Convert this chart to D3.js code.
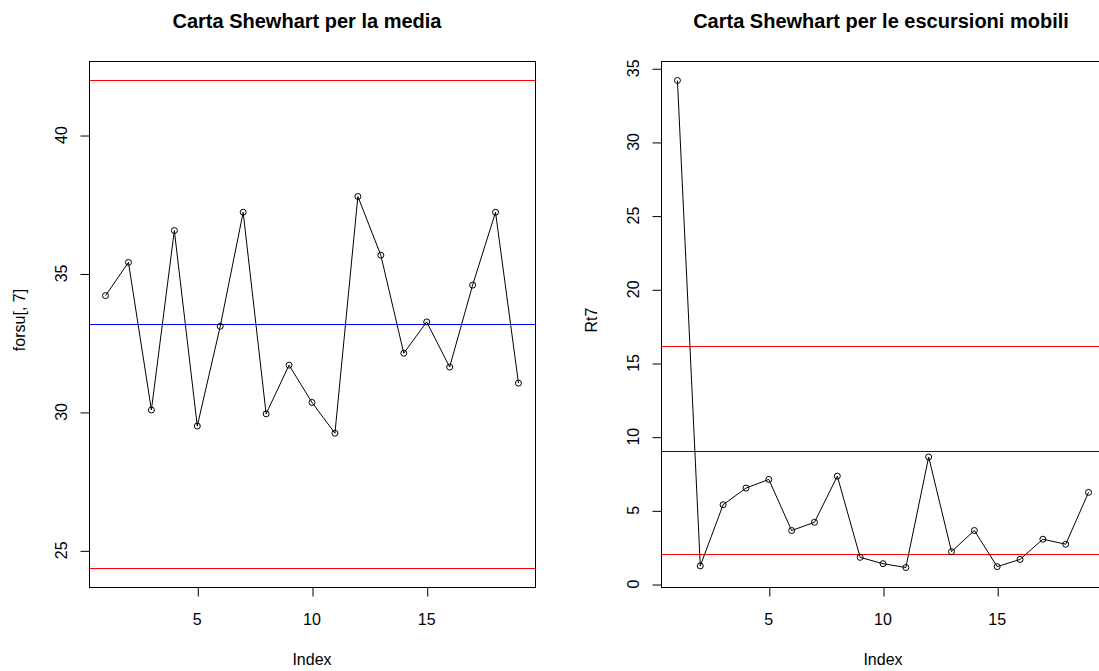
<!DOCTYPE html>
<html>
<head>
<meta charset="utf-8">
<script src="https://cdn.jsdelivr.net/npm/d3@7"></script>
<style>
  html, body { margin: 0; padding: 0; background: #fff; }
  svg { display: block; font-family: "Liberation Sans", Arial, sans-serif; }
</style>
</head>
<body>
<svg id="chart" width="1099" height="671"></svg>
<script>
// Sample index (1..19)
const idx = d3.range(1, 20);

// Column 7 of forsu: individual observations
const forsu7 = [34.20, 35.40, 30.07, 36.55, 29.49, 33.09, 37.21, 29.93, 31.69, 30.34,
                29.23, 37.78, 35.66, 32.12, 33.25, 31.62, 34.58, 37.21, 31.04];
// Control limits for the mean chart
const mediaLimits = { lcl: 24.38, cl: 33.19, ucl: 41.97 };

// Moving ranges Rt7
const rt7 = [34.17, 1.23, 5.38, 6.51, 7.10, 3.63, 4.19, 7.32, 1.81, 1.38,
             1.12, 8.62, 2.20, 3.63, 1.18, 1.67, 3.04, 2.70, 6.22];
// Control limits for the moving range chart
const mrLimits = { lcl: 2.04, cl: 9.03, ucl: 16.13 };

// Tick labels
const xTicks = [5, 10, 15];
const yTicksMedia = [25, 30, 35, 40];
const yTicksMR = [0, 5, 10, 15, 20, 25, 30, 35];

const svg = d3.select("#chart");
const plotTop = 61, plotBottom = 587;

// R-style 4% padding on each side of a range
function padded(lo, hi) {
  const d = (hi - lo) * 0.04;
  return [lo - d, hi + d];
}

function panel(opts) {
  const { left, right, values, limits, ylim, yTicks, title, titleDx, ylab } = opts;
  const g = svg.append("g");

  const x = d3.scaleLinear().domain(padded(1, 19)).range([left, right]);
  const y = d3.scaleLinear().domain(padded(ylim[0], ylim[1])).range([plotBottom, plotTop]);

  // horizontal control lines: upper limit, centre line, lower limit
  const hlines = [
    { v: limits.ucl, c: "rgb(255,0,0)" },
    { v: limits.cl, c: "rgb(0,0,255)" },
    { v: limits.lcl, c: "rgb(255,0,0)" }
  ];
  g.selectAll("rect.hline").data(hlines).enter().append("rect")
    .attr("class", "hline")
    .attr("x", left).attr("width", Math.min(right, 1099) - left)
    .attr("y", d => Math.round(y(d.v)))
    .attr("height", 1)
    .attr("fill", d => d.c);

  // series line and points
  const pts = values.map((v, i) => [idx[i], v]);
  g.append("path")
    .attr("d", d3.line().x(d => x(d[0])).y(d => y(d[1]))(pts))
    .attr("fill", "none").attr("stroke", "#000").attr("stroke-width", 1);
  g.selectAll("circle.pt").data(pts).enter().append("circle")
    .attr("class", "pt")
    .attr("cx", d => x(d[0])).attr("cy", d => y(d[1])).attr("r", 3)
    .attr("fill", "none").attr("stroke", "#000").attr("stroke-width", 1);

  // plot box
  g.append("rect")
    .attr("x", left + 0.5).attr("y", plotTop + 0.5)
    .attr("width", right - left).attr("height", plotBottom - plotTop)
    .attr("fill", "none").attr("stroke", "#000").attr("stroke-width", 1);

  // x axis
  const xa = g.append("g").attr("transform", `translate(0.5,${plotBottom + 0.5})`)
    .call(d3.axisBottom(x).tickValues(xTicks).tickSize(9).tickSizeOuter(0));
  xa.select(".domain").remove();
  xa.selectAll(".tick line").attr("stroke", "#000");
  xa.selectAll(".tick text").remove();
  g.selectAll("text.xt").data(xTicks).enter().append("text")
    .attr("class", "xt")
    .attr("x", d => x(d)).attr("y", 625)
    .attr("text-anchor", "middle").attr("font-size", 16).attr("fill", "#000")
    .text(d => d);

  // y axis
  const ya = g.append("g").attr("transform", `translate(${left + 0.5},0.5)`)
    .call(d3.axisLeft(y).tickValues(yTicks).tickSize(9).tickSizeOuter(0));
  ya.select(".domain").remove();
  ya.selectAll(".tick line").attr("stroke", "#000");
  ya.selectAll(".tick text").remove();
  g.selectAll("text.yt").data(yTicks).enter().append("text")
    .attr("class", "yt")
    .attr("transform", d => `translate(${left - 22},${y(d)}) rotate(-90)`)
    .attr("text-anchor", "middle").attr("font-size", 16).attr("fill", "#000")
    .text(d => d);

  // title and axis labels
  const cx = (left + right) / 2;
  g.append("text").attr("x", cx + titleDx).attr("y", 28)
    .attr("text-anchor", "middle").attr("font-size", 20).attr("font-weight", "bold")
    .attr("fill", "#000").text(title);
  g.append("text").attr("x", cx).attr("y", 665)
    .attr("text-anchor", "middle").attr("font-size", 16).attr("fill", "#000")
    .text("Index");
  g.append("text")
    .attr("transform", `translate(${left - 64.5},${(plotTop + plotBottom) / 2 - 4}) rotate(-90)`)
    .attr("text-anchor", "middle").attr("font-size", 16).attr("fill", "#000")
    .text(ylab);
}

panel({
  left: 89, right: 535,
  values: forsu7, limits: mediaLimits,
  ylim: [mediaLimits.lcl, mediaLimits.ucl],
  yTicks: yTicksMedia,
  title: "Carta Shewhart per la media", titleDx: -5,
  ylab: "forsu[, 7]"
});

panel({
  left: 661, right: 1105,
  values: rt7, limits: mrLimits,
  ylim: d3.extent(rt7),
  yTicks: yTicksMR,
  title: "Carta Shewhart per le escursioni mobili", titleDx: -2,
  ylab: "Rt7"
});
</script>
</body>
</html>
